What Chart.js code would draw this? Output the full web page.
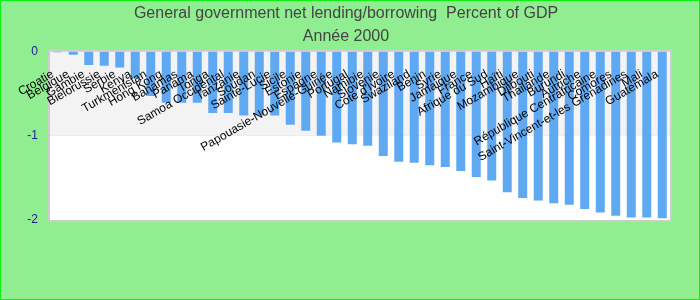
<!DOCTYPE html>
<html>
<head>
<meta charset="utf-8">
<script src="https://cdn.jsdelivr.net/npm/chart.js@4.4.1/dist/chart.umd.min.js"></script>
<style>
  body { margin: 0; background: #90ee90; }
  #wrap { width: 700px; height: 300px; }
</style>
</head>
<body>
<div id="wrap"><canvas id="myChart" width="700" height="300"></canvas></div>
<script>
// data
var countries = ['Croatie', 'Belgique', 'Gambie', 'Bielorussie', 'Serbie', 'Kenya', 'Turkmenistan',
    'Hong Kong', 'Bahamas', 'Panama', 'Tonga', 'Samoa Occidental', 'Tanzanie', 'Soudan',
    'Sainte-Lucie', 'Sicile', 'Estonie', 'Espagne', 'Papouasie-Nouvelle-Guinée', 'Portugal',
    'Namibie', 'Slovenie', "Cote d'Ivoire", 'Swaziland', 'Benin', 'Syrie', 'Jamaique', 'France',
    'Afrique du Sud', 'Haïti', 'Mozambique', 'Djibouti', 'Thailande', 'Burundi', 'Autriche',
    'République Centrafricaine', 'Comores', 'Saint-Vincent-et-les Grenadines', 'Mali', 'Guatemala'];
var values = [-0.01, -0.04, -0.16, -0.17, -0.19, -0.32, -0.53,
    -0.61, -0.61, -0.61, -0.73, -0.73, -0.76, -0.76,
    -0.76, -0.87, -0.94, -1.0, -1.08, -1.1,
    -1.12, -1.24, -1.31, -1.32, -1.35, -1.37, -1.42, -1.49,
    -1.53, -1.67, -1.74, -1.77, -1.8, -1.82, -1.87,
    -1.91, -1.95, -1.97, -1.97, -1.98];
var yTicks = [0, -1, -2];
var bands = [[0, -1, '#f3f3f3'], [-1, -2, '#ffffff']];

var titleText = 'General government net lending/borrowing  Percent of GDP';
var subtitleText = 'Année 2000';

Chart.defaults.font.family = "'Liberation Sans', Arial, sans-serif";

// background, bands and frame
var backPlugin = {
    id: 'back',
    beforeDraw: function (chart) {
        var ctx = chart.ctx;
        var area = chart.chartArea;
        var y = chart.scales.y;
        ctx.save();
        ctx.fillStyle = '#90ee90';
        ctx.fillRect(0, 0, chart.width, chart.height);
        ctx.strokeStyle = '#11ee11';
        ctx.lineWidth = 1;
        ctx.strokeRect(0.5, 0.5, chart.width - 1, chart.height - 1);
        bands.forEach(function (b) {
            var y1 = y.getPixelForValue(b[0]);
            var y2 = y.getPixelForValue(b[1]);
            ctx.fillStyle = b[2];
            ctx.fillRect(area.left, y1, area.right - area.left, y2 - y1);
        });
        ctx.strokeStyle = '#cccccc';
        ctx.lineWidth = 2;
        ctx.strokeRect(area.left - 1, area.top - 1, area.right - area.left + 2, area.bottom - area.top + 2);
        ctx.restore();
    }
};

// rotated category labels drawn inside the plot, over the bars
var labelPlugin = {
    id: 'catLabels',
    afterDatasetsDraw: function (chart) {
        var ctx = chart.ctx;
        var x = chart.scales.x;
        var top = chart.chartArea.top;
        ctx.save();
        ctx.fillStyle = '#000000';
        ctx.font = "12px 'Liberation Sans', Arial, sans-serif";
        ctx.textAlign = 'right';
        ctx.textBaseline = 'middle';
        countries.forEach(function (c, i) {
            ctx.save();
            ctx.translate(x.getPixelForValue(i) - 5, top + 22);
            ctx.rotate(-Math.PI / 6);
            ctx.fillText(c, 0, 0);
            ctx.restore();
        });
        ctx.restore();
    }
};

var ctx = document.getElementById('myChart').getContext('2d');
var myChart = new Chart(ctx, {
    type: 'bar',
    data: {
        labels: countries,
        datasets: [{
            data: values,
            backgroundColor: '#5fa8f2',
            borderWidth: 0,
            categoryPercentage: 1,
            barPercentage: 0.58
        }]
    },
    options: {
        responsive: false,
        animation: false,
        layout: { padding: { left: 22, right: 30, top: 0, bottom: 80 } },
        plugins: {
            legend: { display: false },
            tooltip: { enabled: false },
            title: {
                display: true,
                text: titleText,
                color: '#444444',
                font: { size: 16, weight: 'normal' },
                padding: { top: 4, bottom: 3 }
            },
            subtitle: {
                display: true,
                text: subtitleText,
                color: '#444444',
                font: { size: 16, weight: 'normal' },
                padding: { top: 1, bottom: 5 }
            }
        },
        scales: {
            x: {
                ticks: { display: false },
                grid: { display: false, drawTicks: false },
                border: { display: false }
            },
            y: {
                min: -2,
                max: 0,
                afterBuildTicks: function (scale) {
                    scale.ticks = yTicks.map(function (v) { return { value: v }; });
                },
                afterFit: function (scale) { scale.width = 28; },
                ticks: { color: '#1c1c8c', font: { size: 12 }, padding: 12 },
                grid: { display: false, drawTicks: false },
                border: { display: false }
            }
        }
    },
    plugins: [backPlugin, labelPlugin]
});
</script>
</body>
</html>
